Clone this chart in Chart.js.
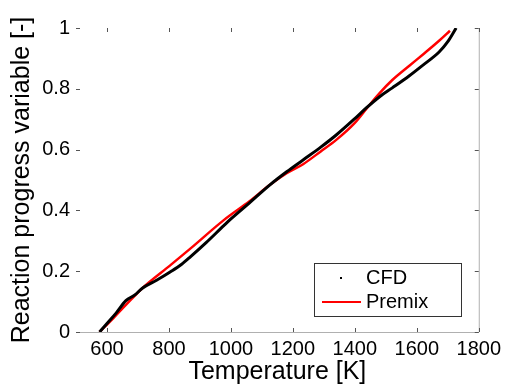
<!DOCTYPE html>
<html>
<head>
<meta charset="utf-8">
<script src="https://cdn.jsdelivr.net/npm/chart.js@4.4.1/dist/chart.umd.min.js"></script>
<style>
  html, body { margin: 0; padding: 0; background: #fff; }
  #wrap { width: 506px; height: 388px; position: relative; }
</style>
</head>
<body>
<div id="wrap"><canvas id="chart" width="506" height="388"></canvas></div>
<script>
// CFD curve (temperature K, progress variable)
const cfdT = [576, 600, 630, 661, 690, 714, 760, 805, 840, 870, 920, 977, 1000, 1060, 1126, 1180, 1233, 1290, 1340, 1400, 1437, 1480, 1521, 1576, 1620, 1672, 1700, 1727];
const cfdC = [0, 0.028, 0.063, 0.103, 0.122, 0.144, 0.17, 0.198, 0.222, 0.248, 0.294, 0.35, 0.372, 0.425, 0.484, 0.527, 0.566, 0.608, 0.648, 0.702, 0.737, 0.774, 0.803, 0.843, 0.878, 0.921, 0.955, 1.0];

// Premix curve
const premixT = [576, 620, 661, 714, 805, 870, 977, 1060, 1126, 1180, 1233, 1290, 1340, 1400, 1437, 1480, 1521, 1576, 1620, 1672, 1707];
const premixC = [0, 0.045, 0.089, 0.144, 0.22, 0.275, 0.368, 0.43, 0.484, 0.522, 0.552, 0.594, 0.632, 0.688, 0.734, 0.786, 0.829, 0.876, 0.913, 0.958, 0.991];

const xTicks = [600, 800, 1000, 1200, 1400, 1600, 1800];
const yTicks = [0, 0.2, 0.4, 0.6, 0.8, 1];

function toPoints(xs, ys) {
  return xs.map((x, i) => ({ x: x, y: ys[i] }));
}

const FONT = "'Liberation Sans', Arial, sans-serif";

// inward MATLAB-style ticks + right border line
const tickMarks = {
  id: 'tickMarks',
  afterDatasetsDraw(chart) {
    const ctx = chart.ctx;
    const a = chart.chartArea;
    const xs = chart.scales.x, ys = chart.scales.y;
    ctx.save();
    ctx.strokeStyle = '#b0b0b0';
    ctx.lineWidth = 1;
    ctx.beginPath();
    ctx.moveTo(a.right + 0.5, a.top);
    ctx.lineTo(a.right + 0.5, a.bottom);
    ctx.stroke();
    ctx.strokeStyle = '#555';
    ctx.beginPath();
    xTicks.forEach(v => {
      const p = Math.round(xs.getPixelForValue(v)) + 0.5;
      ctx.moveTo(p, a.bottom); ctx.lineTo(p, a.bottom - 4);
      ctx.moveTo(p, a.top); ctx.lineTo(p, a.top + 4);
    });
    yTicks.forEach(v => {
      const p = Math.round(ys.getPixelForValue(v)) + 0.5;
      ctx.moveTo(a.left, p); ctx.lineTo(a.left + 4, p);
      ctx.moveTo(a.right, p); ctx.lineTo(a.right - 4, p);
    });
    ctx.stroke();
    ctx.restore();
  }
};

// legend box inside the plot, lower right
const boxLegend = {
  id: 'boxLegend',
  afterDraw(chart) {
    const ctx = chart.ctx;
    const ds = chart.data.datasets;
    ctx.save();
    ctx.fillStyle = '#fff';
    ctx.fillRect(314, 263, 147, 53);
    ctx.strokeStyle = '#333';
    ctx.lineWidth = 1;
    ctx.strokeRect(314.5, 263.5, 147, 53);
    ctx.font = '20px ' + FONT;
    ctx.textBaseline = 'middle';
    ctx.fillStyle = '#000';
    // CFD: dot marker
    ctx.fillRect(340, 277, 2, 2);
    ctx.fillText(ds[0].label, 366, 278);
    // Premix: red line
    ctx.strokeStyle = ds[1].borderColor;
    ctx.lineWidth = 2;
    ctx.beginPath();
    ctx.moveTo(322, 302); ctx.lineTo(361, 302);
    ctx.stroke();
    ctx.fillText(ds[1].label, 366, 302);
    ctx.restore();
  }
};

new Chart(document.getElementById('chart'), {
  type: 'line',
  data: {
    datasets: [
      {
        label: 'CFD',
        data: toPoints(cfdT, cfdC),
        borderColor: '#000',
        borderWidth: 3,
        pointRadius: 0,
        cubicInterpolationMode: 'monotone'
      },
      {
        label: 'Premix',
        data: toPoints(premixT, premixC),
        borderColor: '#ff0000',
        borderWidth: 2.5,
        pointRadius: 0,
        cubicInterpolationMode: 'monotone'
      }
    ]
  },
  options: {
    responsive: false,
    animation: false,
    layout: { padding: { top: 28, right: 25, left: 0, bottom: 0 } },
    plugins: {
      legend: { display: false },
      tooltip: { enabled: false }
    },
    scales: {
      x: {
        type: 'linear',
        min: 500,
        max: 1800,
        afterBuildTicks: s => { s.ticks = xTicks.map(v => ({ value: v })); },
        afterFit: s => { s.height = 56; },
        grid: { display: false, drawTicks: false },
        border: { display: true, color: '#b0b0b0', width: 1 },
        ticks: { color: '#000', padding: 5, maxRotation: 0, callback: v => String(v), font: { family: FONT, size: 20 } },
        title: { display: true, text: 'Temperature [K]', color: '#000', padding: { top: 0, bottom: 1 }, font: { family: FONT, size: 25 } }
      },
      y: {
        min: 0,
        max: 1,
        afterBuildTicks: s => { s.ticks = yTicks.map(v => ({ value: v })); },
        afterFit: s => { s.width = 76; },
        grid: { display: false, drawTicks: false },
        border: { display: false },
        ticks: { color: '#000', padding: 6, callback: v => String(v), font: { family: FONT, size: 20 } },
        title: { display: true, text: 'Reaction progress variable [-]', color: '#000', padding: { top: 7, bottom: 0 }, font: { family: FONT, size: 25 } }
      }
    }
  },
  plugins: [tickMarks, boxLegend]
});
</script>
</body>
</html>
